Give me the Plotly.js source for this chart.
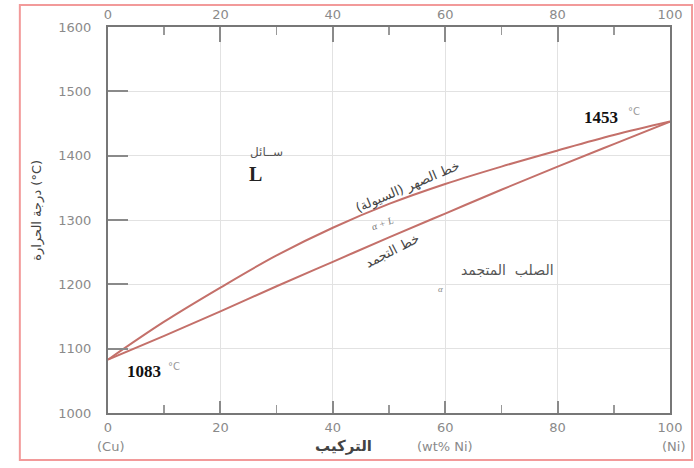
<!DOCTYPE html>
<html><head><meta charset="utf-8">
<script src="https://cdn.plot.ly/plotly-3.0.1.min.js"></script>
<style>html,body{margin:0;padding:0;background:#fff}#chart{width:694px;height:468px}</style>
</head><body><div id="chart"></div>
<script>
// Composition (wt% Ni)
const composition = [0,10,20,30,40,50,60,70,80,90,100];
// Liquidus temperatures (°C)
const liquidus = [1083,1142,1195,1245,1288,1325,1356,1383,1408,1432,1453];
// Solidus temperatures (°C)
const solidus  = [1083,1120,1158,1197,1235,1273,1310,1347,1383,1418,1453];
const xTicks = [0,20,40,60,80,100];
const xMinorTicks = [10,30,50,70,90];
const yTicks = [1000,1100,1200,1300,1400,1500,1600];

const curveColor = '#c4706a';
const traces = [
  {x: composition, y: liquidus, mode:'lines', line:{color:curveColor, width:2, shape:'spline'}, hoverinfo:'skip', showlegend:false},
  {x: composition, y: solidus, xaxis:'x2', mode:'lines', line:{color:curveColor, width:2, shape:'spline'}, hoverinfo:'skip', showlegend:false}
];

const tickFont = {family:'DejaVu Sans', size:13, color:'#8a8a8a'};
const axCommon = {
  range:[0,100], tickvals:xTicks, ticktext:xTicks.map(String), ticks:'inside', ticklen:12, tickcolor:'#8a8a8a', tickwidth:2,
  minor:{tickvals:xMinorTicks, ticks:'inside', ticklen:8, tickcolor:'#999', tickwidth:1.5, showgrid:false},
  showline:true, linecolor:'#777', linewidth:2, tickfont:tickFont, zeroline:false, fixedrange:true
};

const serif = 'Liberation Serif';
const ar = 'DejaVu Sans';
const degFont = {family:'DejaVu Sans', size:10, color:'#999'};
const ann = [
  {x:28.2, y:1406, text:'ســائل', font:{family:ar, size:12, color:'#555'}},
  {x:26.2, y:1372, text:'<b>L</b>', font:{family:serif, size:20, color:'#222'}},
  {x:87.7, y:1460, text:'<b>1453</b>', font:{family:serif, size:17, color:'#111'}},
  {x:93.6, y:1468, text:'°C', font:degFont},
  {x:6.4, y:1064, text:'<b>1083</b>', font:{family:serif, size:17, color:'#111'}},
  {x:11.8, y:1073, text:'°C', font:degFont},
  {x:53.3, y:1351, text:'خط الصهر (السيولة)', textangle:-23, font:{family:ar, size:13, color:'#444'}},
  {x:48.8, y:1295, text:'<i>α + L</i>', textangle:-20, font:{family:serif, size:10, color:'#777'}},
  {x:50.6, y:1252, text:'خط التجمد', textangle:-27, font:{family:ar, size:13, color:'#444'}},
  {x:71.0, y:1222, text:'الصلب  المتجمد', font:{family:ar, size:14, color:'#555'}},
  {x:59.2, y:1192, text:'<i>α</i>', font:{family:serif, size:9, color:'#888'}},
  {xref:'paper', yref:'paper', x:(37-108)/561, y:(413-210)/386, text:'درجة الحرارة (°C)', textangle:-90, font:{family:ar, size:13, color:'#444'}},
  {xref:'paper', yref:'paper', x:(110-108)/561, y:(413-446)/386, text:'(Cu)', font:tickFont},
  {xref:'paper', yref:'paper', x:(343-108)/561, y:(413-446)/386, text:'<b>التركيب</b>', font:{family:ar, size:15, color:'#444'}},
  {xref:'paper', yref:'paper', x:(444-108)/561, y:(413-446)/386, text:'(wt% Ni)', font:tickFont},
  {xref:'paper', yref:'paper', x:(672-108)/561, y:(413-446)/386, text:'(Ni)', font:tickFont}
].map(a => Object.assign({showarrow:false, xref:'x', yref:'y', xanchor:'center', yanchor:'middle'}, a));

const px = v => (v-108)/561, py = v => (413-v)/386;
const layout = {
  width:694, height:468,
  margin:{l:108, r:24, t:27, b:55},
  paper_bgcolor:'#fff', plot_bgcolor:'#fff',
  showlegend:false,
  xaxis: Object.assign({}, axCommon, {side:'bottom', showgrid:true, gridcolor:'#e2e2e2', gridwidth:1, ticklabelstandoff:1}),
  xaxis2: Object.assign({}, axCommon, {side:'top', overlaying:'x', showgrid:false, ticklen:15, ticklabelstandoff:1}),
  yaxis: {range:[1000,1600], tickvals:yTicks, ticktext:yTicks.map(String), ticks:'inside', ticklen:20, tickcolor:'#8a8a8a', tickwidth:2,
          showline:true, linecolor:'#777', linewidth:2, mirror:true, tickfont:tickFont, showgrid:true, gridcolor:'#e2e2e2', zeroline:false, fixedrange:true, ticklabelstandoff:12},
  annotations: ann,
  shapes:[{type:'rect', xref:'paper', yref:'paper', x0:px(20), x1:px(691), y0:py(460), y1:py(5), line:{color:'#f29a9a', width:2}}]
};
Plotly.newPlot('chart', traces, layout, {displayModeBar:false, staticPlot:true});
</script></body></html>
